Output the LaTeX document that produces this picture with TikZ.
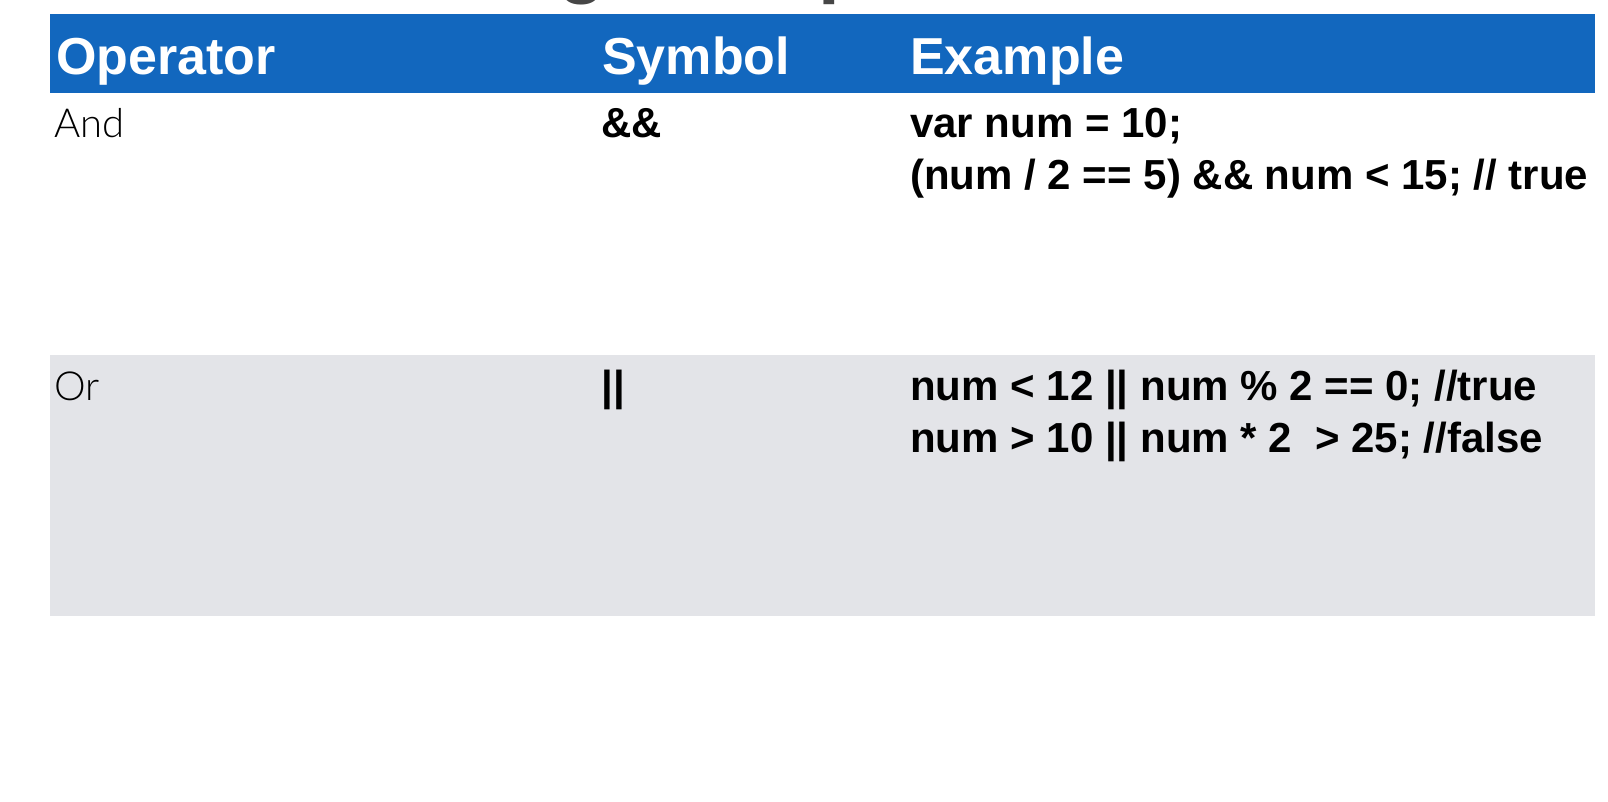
\documentclass[tikz,border=0pt]{standalone}
\usepackage{fontspec}
\setmainfont{Liberation Sans}
\newfontfamily\lightfont{Lato Light}
\definecolor{headblue}{RGB}{18,103,190}
\definecolor{rowgray}{RGB}{227,228,232}
\definecolor{titlegray}{RGB}{70,70,70}

\begin{document}
\begin{tikzpicture}[x=0.75pt,y=-0.75pt,
    headtext/.style={anchor=base west,inner sep=0pt,text=white,font=\fontsize{39}{47}\selectfont\bfseries},
    optext/.style={anchor=base west,inner sep=0pt,font=\lightfont\fontsize{30}{39}\selectfont},
    codetext/.style={anchor=base west,inner sep=0pt,align=left,font=\fontsize{31.5}{39}\selectfont\bfseries}]
        \useasboundingbox (0,0) rectangle (1608,802);
        \begin{scope}
            \clip (0,0) rectangle (1608,802);
            \node[anchor=base west,inner sep=0pt,text=titlegray,font=\fontsize{58.5}{70}\selectfont\bfseries]
                (title) at (463,-11) {Logical Operators};
        \end{scope}
        \fill[headblue] (50,14) rectangle (1595,93);
        \fill[rowgray] (50,355) rectangle (1595,616);
        \node[headtext] (hop) at (56,75) {Operator};
        \node[headtext] (hsym) at (602,75) {Symbol};
        \node[headtext] (hex) at (910,75) {Example};
        \node[optext] (opand) at (54,138) {And};
        \node[codetext] (symand) at (601,138) {\&\&};
        % base anchor sits on the last line
        \node[codetext] (exand) at (910,190) {var num = 10;\\(num / 2 == 5) \&\& num < 15; // true};
        \node[optext] (opor) at (54,400) {Or};
        \node[codetext] (symor) at (601,400) {||};
        \node[codetext] (exor) at (910,452) {num < 12 || num \% 2 == 0; //true\\num > 10 || num * 2 \ > 25; //false};
      \end{tikzpicture}
\end{document}
